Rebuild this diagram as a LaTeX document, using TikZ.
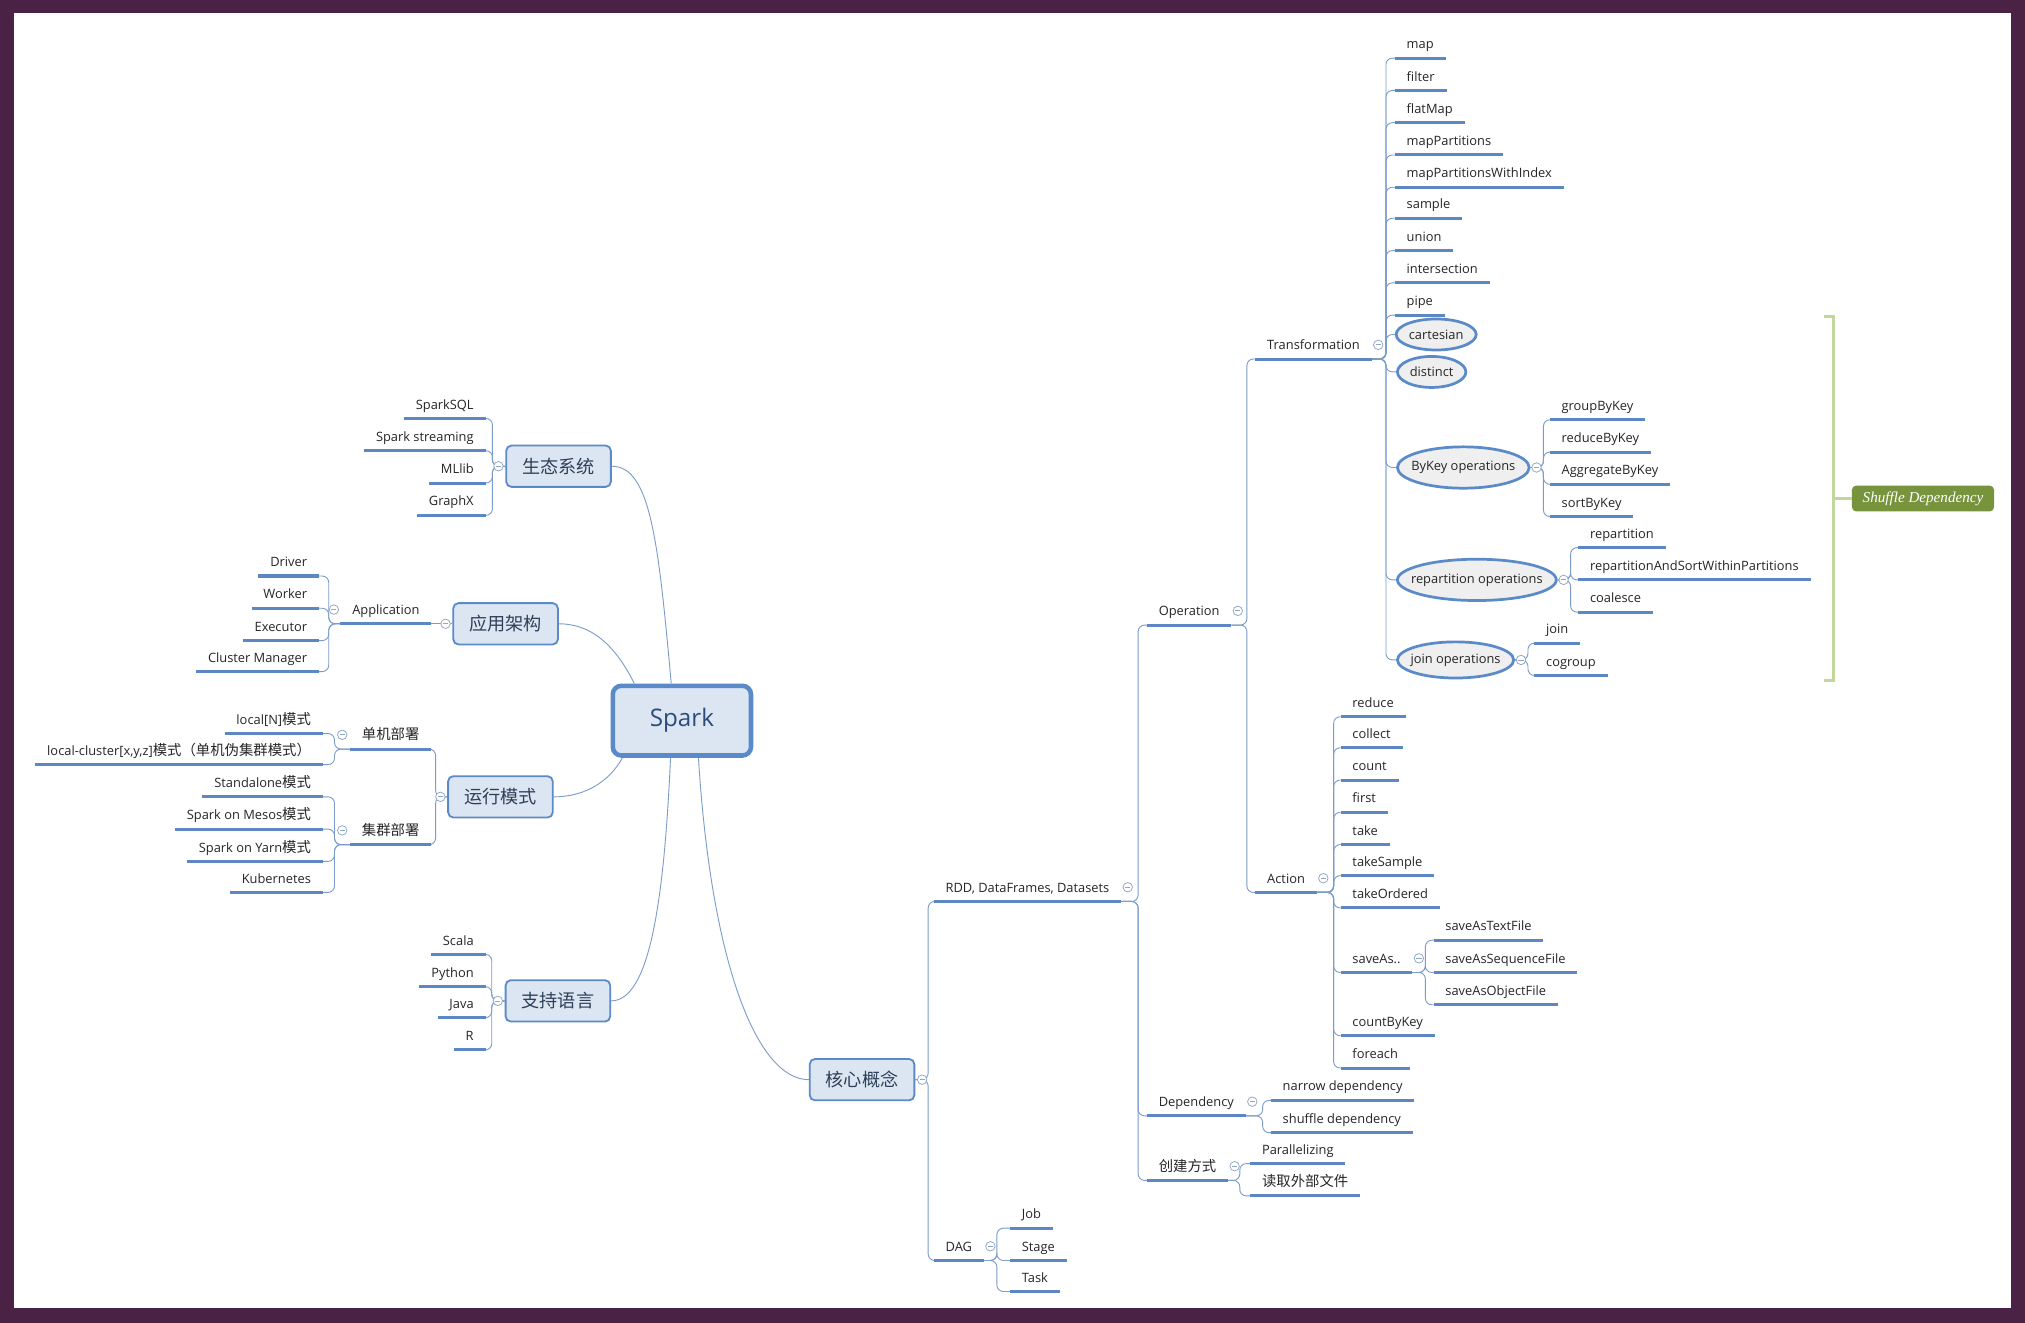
\documentclass[tikz,border=0pt]{standalone}
\usepackage{fontspec}
\setmainfont{Open Sans}
\newfontfamily\cjk{Noto Sans CJK SC}
\newfontfamily\shufflefont{Liberation Serif}
\usetikzlibrary{positioning, calc, shapes.geometric}
\definecolor{colour_frame}{HTML}{4A2246}
\definecolor{colour_box}{HTML}{5B8AC9}
\definecolor{colour_fill}{HTML}{DCE6F2}
\definecolor{colour_boxtext}{HTML}{2E3F58}
\definecolor{colour_root}{HTML}{2B4B7B}
\definecolor{colour_line}{HTML}{7C9CC9}
\definecolor{colour_uline}{HTML}{5D87C2}
\definecolor{colour_fold}{HTML}{8FA6C6}
\definecolor{colour_oval}{HTML}{EFEFEF}
\definecolor{colour_brace}{HTML}{C3D69B}
\definecolor{colour_shuffle}{HTML}{77933C}
\newcommand{\zh}[1]{{\cjk\fontsize{9.5}{11}\selectfont #1}}

\begin{document}
\begin{tikzpicture}
   [
      x=0.03cm, y=-0.03cm,
      topic/.style={rectangle, rounded corners=0.12cm, draw=colour_box, line width=1.2pt, fill=colour_fill, minimum width=2.43cm, minimum height=0.96cm, font=\cjk\fontsize{12}{14}\selectfont, text=colour_boxtext},
      root/.style={topic, line width=3pt, rounded corners=0.2cm, minimum width=3.21cm, minimum height=1.62cm, font=\fontsize{16}{18}\selectfont, text=colour_root},
      leaf/.style={inner xsep=0.27cm, inner ysep=0.14cm, text height=0.23cm, text depth=0.07cm, font=\fontsize{8.5}{10}\selectfont, text=black!85},
      oval/.style={ellipse, draw=colour_box, line width=1.8pt, fill=colour_oval, inner xsep=-0.6cm, inner ysep=0pt, font=\fontsize{8.5}{10}\selectfont, text=black!85},
      fold/.style={circle, draw=colour_fold, fill=white, line width=0.5pt, minimum size=0.22cm, inner sep=0pt, path picture={\draw[colour_fold, line width=0.5pt] ([xshift=-0.06cm]path picture bounding box.center) -- ([xshift=0.06cm]path picture bounding box.center);}},
      conn/.style={draw=colour_line, line width=0.6pt, rounded corners=0.15cm},
      uline/.style={draw=colour_uline, line width=2pt},
      elbow/.style={to path={-- ++(#1,0) |- (\tikztotarget)}},
      brace/.style={draw=colour_brace, line width=2pt},
      shufflebox/.style={rectangle, rounded corners=0.1cm, fill=colour_shuffle, text=white, minimum width=3.3cm, minimum height=0.6cm, font=\shufflefont\itshape\fontsize{10}{12}\selectfont},
   ]

   % =======================================================
   % Frame
   % =======================================================

   \useasboundingbox (0,0) rectangle (1568,1024.4);
   \fill[colour_frame] (0,0) rectangle (1568,1024.4);
   \fill[white] (11,10) rectangle (1557,1013);

   % =======================================================
   % Root and main topics
   % =======================================================

   \node[root] (Spark) at (528,558) {Spark};
   \node[topic] (Eco) at (432.5,361) {生态系统};
   \node[topic] (Arch) at (391.5,483) {应用架构};
   \node[topic] (Mode) at (387.5,617) {运行模式};
   \node[topic] (Lang) at (432,775) {支持语言};
   \node[topic] (Core) at (667.5,836) {核心概念};

   \draw[conn] (Spark.106) .. controls +(-10,-110) and +(30,0) .. (Eco.east);
   \draw[conn] (Spark.142) .. controls +(-15,-30) and +(25,0) .. (Arch.east);
   \draw[conn] (Spark.212) .. controls +(-10,18) and +(25,0) .. (Mode.east);
   \draw[conn] (Spark.253) .. controls +(-5,110) and +(30,0) .. (Lang.east);
   \draw[conn] (Spark.294) .. controls +(10,160) and +(-40,0) .. (Core.west);

   % =======================================================
   % Left side
   % =======================================================

   % Ecosystem
   \foreach \nm/\txt/\yy in {sql/SparkSQL/324, stream/Spark streaming/349, mllib/MLlib/374, graphx/GraphX/399}
   {
      \node[leaf, anchor=south east] (E_\nm) at (376,\yy) {\txt};
      \draw[conn] (Eco.west) to[elbow=-10] (E_\nm.south east);
      \draw[uline] (E_\nm.south west) -- (E_\nm.south east);
   }

   % Architecture
   \node[leaf, anchor=south east] (App) at (334,483) {Application};
   \draw[conn] (Arch.west) -- (App.south east);
   \draw[uline] (App.south west) -- (App.south east);
   \foreach \nm/\txt/\yy in {driver/Driver/446, worker/Worker/471, exec/Executor/496, cm/Cluster Manager/520}
   {
      \node[leaf, anchor=south east] (A_\nm) at (247,\yy) {\txt};
      \draw[conn] (App.south west) to[elbow=-9] (A_\nm.south east);
      \draw[uline] (A_\nm.south west) -- (A_\nm.south east);
   }

   % Deploy modes
   \node[leaf, anchor=south east] (Single) at (334,580) {\zh{单机部署}};
   \node[leaf, anchor=south east] (Cluster) at (334,654) {\zh{集群部署}};
   \foreach \nm in {Single, Cluster}
   {
      \draw[conn] (Mode.west) to[elbow=-9] (\nm.south east);
      \draw[uline] (\nm.south west) -- (\nm.south east);
   }
   \foreach \nm/\txt/\yy in {local/local[N]\zh{模式}/568, lcluster/{local-cluster[x,y,z]\zh{模式（单机伪集群模式）}}/592}
   {
      \node[leaf, anchor=south east] (M_\nm) at (250,\yy) {\txt};
      \draw[conn] (Single.south west) to[elbow=-12] (M_\nm.south east);
      \draw[uline] (M_\nm.south west) -- (M_\nm.south east);
   }
   \foreach \nm/\txt/\yy in {stand/Standalone\zh{模式}/617, mesos/Spark on Mesos\zh{模式}/642, yarn/Spark on Yarn\zh{模式}/667, kube/Kubernetes/691}
   {
      \node[leaf, anchor=south east] (M_\nm) at (250,\yy) {\txt};
      \draw[conn] (Cluster.south west) to[elbow=-12] (M_\nm.south east);
      \draw[uline] (M_\nm.south west) -- (M_\nm.south east);
   }

   % Languages
   \foreach \nm/\txt/\yy in {scala/Scala/739, python/Python/764, java/Java/788, r/R/813}
   {
      \node[leaf, anchor=south east] (L_\nm) at (376,\yy) {\txt};
      \draw[conn] (Lang.west) to[elbow=-10] (L_\nm.south east);
      \draw[uline] (L_\nm.south west) -- (L_\nm.south east);
   }

   % =======================================================
   % Right side: core concepts
   % =======================================================

   \node[leaf, anchor=south west] (RDD) at (723,698) {RDD, DataFrames, Datasets};
   \node[leaf, anchor=south west] (DAG) at (723,976) {DAG};
   \foreach \nm in {RDD, DAG}
   {
      \draw[conn] (Core.east) to[elbow=10] (\nm.south west);
      \draw[uline] (\nm.south west) -- (\nm.south east);
   }
   \foreach \nm/\txt/\yy in {job/Job/951, stage/Stage/976, task/Task/1000}
   {
      \node[leaf, anchor=south west] (G_\nm) at (782,\yy) {\txt};
      \draw[conn] (DAG.south east) to[elbow=10] (G_\nm.south west);
      \draw[uline] (G_\nm.south west) -- (G_\nm.south east);
   }

   \node[leaf, anchor=south west] (Op) at (888,484) {Operation};
   \node[leaf, anchor=south west] (Dep) at (888,864) {Dependency};
   \node[leaf, anchor=south west] (Create) at (888,914) {\zh{创建方式}};
   \foreach \nm in {Op, Dep, Create}
   {
      \draw[conn] (RDD.south east) to[elbow=13] (\nm.south west);
      \draw[uline] (\nm.south west) -- (\nm.south east);
   }
   \foreach \nm/\txt/\yy in {narrow/narrow dependency/852, shuffle/shuffle dependency/877}
   {
      \node[leaf, anchor=south west] (D_\nm) at (984,\yy) {\txt};
      \draw[conn] (Dep.south east) to[elbow=13] (D_\nm.south west);
      \draw[uline] (D_\nm.south west) -- (D_\nm.south east);
   }
   \foreach \nm/\txt/\yy in {par/Parallelizing/901, read/\zh{读取外部文件}/926}
   {
      \node[leaf, anchor=south west] (C_\nm) at (968,\yy) {\txt};
      \draw[conn] (Create.south east) to[elbow=9] (C_\nm.south west);
      \draw[uline] (C_\nm.south west) -- (C_\nm.south east);
   }

   \node[leaf, anchor=south west] (Trans) at (972,278) {Transformation};
   \node[leaf, anchor=south west] (Act) at (972,691) {Action};
   \foreach \nm in {Trans, Act}
   {
      \draw[conn] (Op.south east) to[elbow=12] (\nm.south west);
      \draw[uline] (\nm.south west) -- (\nm.south east);
   }

   % Transformation
   \foreach \nm/\txt/\yy in {map/map/45, filter/filter/70, flatmap/flatMap/95, mapp/mapPartitions/120, mappi/mapPartitionsWithIndex/145, sample/sample/169, union/union/194, inter/intersection/219, pipe/pipe/244}
   {
      \node[leaf, anchor=south west] (T_\nm) at (1080,\yy) {\txt};
      \draw[conn] (Trans.south east) to[elbow=11] (T_\nm.south west);
      \draw[uline] (T_\nm.south west) -- (T_\nm.south east);
   }
   \node[oval, anchor=west, minimum width=1.86cm, minimum height=0.72cm] (O_cart) at (1080,259) {cartesian};
   \node[oval, anchor=west, minimum width=1.59cm, minimum height=0.72cm] (O_dist) at (1081,288) {distinct};
   \node[oval, anchor=west, minimum width=3.06cm, minimum height=0.96cm] (O_bykey) at (1081,362) {ByKey operations};
   \node[oval, anchor=west, minimum width=3.69cm, minimum height=0.96cm] (O_repart) at (1081,449) {repartition operations};
   \node[oval, anchor=west, minimum width=2.7cm, minimum height=0.84cm] (O_join) at (1081,511) {join operations};
   \foreach \nm in {cart, dist, bykey, repart, join}
      \draw[conn] (Trans.south east) to[elbow=11] (O_\nm.west);

   \foreach \nm/\txt/\yy in {group/groupByKey/325, reduce/reduceByKey/350, aggr/AggregateByKey/375, sort/sortByKey/400}
   {
      \node[leaf, anchor=south west] (K_\nm) at (1200,\yy) {\txt};
      \draw[conn] (O_bykey.east) to[elbow=10] (K_\nm.south west);
      \draw[uline] (K_\nm.south west) -- (K_\nm.south east);
   }
   \foreach \nm/\txt/\yy in {repart/repartition/424, rasw/repartitionAndSortWithinPartitions/449, coal/coalesce/474}
   {
      \node[leaf, anchor=south west] (R_\nm) at (1222,\yy) {\txt};
      \draw[conn] (O_repart.east) to[elbow=10] (R_\nm.south west);
      \draw[uline] (R_\nm.south west) -- (R_\nm.south east);
   }
   \foreach \nm/\txt/\yy in {join/join/498, cogroup/cogroup/523}
   {
      \node[leaf, anchor=south west] (J_\nm) at (1188,\yy) {\txt};
      \draw[conn] (O_join.east) to[elbow=10] (J_\nm.south west);
      \draw[uline] (J_\nm.south west) -- (J_\nm.south east);
   }

   % Action
   \foreach \nm/\txt/\yy in {reduce/reduce/555, collect/collect/579, count/count/604, first/first/629, take/take/654, tsample/takeSample/678, tordered/takeOrdered/703, cbk/countByKey/802, each/foreach/827}
   {
      \node[leaf, anchor=south west] (A_\nm) at (1038,\yy) {\txt};
      \draw[conn] (Act.south east) to[elbow=13] (A_\nm.south west);
      \draw[uline] (A_\nm.south west) -- (A_\nm.south east);
   }
   \node[leaf, anchor=south west] (SaveAs) at (1038,753) {saveAs..};
   \draw[conn] (Act.south east) to[elbow=13] (SaveAs.south west);
   \draw[uline] (SaveAs.south west) -- (SaveAs.south east);
   \foreach \nm/\txt/\yy in {text/saveAsTextFile/728, seq/saveAsSequenceFile/753, obj/saveAsObjectFile/778}
   {
      \node[leaf, anchor=south west] (S_\nm) at (1110,\yy) {\txt};
      \draw[conn] (SaveAs.south east) to[elbow=10] (S_\nm.south west);
      \draw[uline] (S_\nm.south west) -- (S_\nm.south east);
   }

   % =======================================================
   % Shuffle Dependency bracket
   % =======================================================

   \coordinate (B_top) at (1412,245);
   \coordinate (B_bot) at (1412,527);
   \node[shufflebox] (Shuffle) at (1489,386) {Shuffle Dependency};
   \draw[brace] (B_top) -- ++(8,0) -- ++(0,282) -- (B_bot);
   \draw[brace] (Shuffle.west) -- ++(-14,0);

   % =======================================================
   % Fold markers
   % =======================================================

   \node[fold, left=0.04cm of Eco] (Eco_f) {};
   \node[fold, left=0.04cm of Arch] (Arch_f) {};
   \node[fold, left=0.04cm of Mode] (Mode_f) {};
   \node[fold, left=0.04cm of Lang] (Lang_f) {};
   \node[fold, right=0.04cm of Core] (Core_f) {};
   \node[fold] (App_f) at ([shift={(-5,-11)}]App.south west) {};
   \node[fold] (Single_f) at ([shift={(-6,-11)}]Single.south west) {};
   \node[fold] (Cluster_f) at ([shift={(-6,-11)}]Cluster.south west) {};
   \foreach \nm in {RDD, DAG, Op, Dep, Create, Trans, Act, SaveAs}
      \node[fold] (\nm_f) at ([shift={(5,-11)}]\nm.south east) {};
   \foreach \nm in {bykey, repart, join}
      \node[fold, right=0.02cm of O_\nm] (O_\nm_f) {};

\end{tikzpicture}
\end{document}
